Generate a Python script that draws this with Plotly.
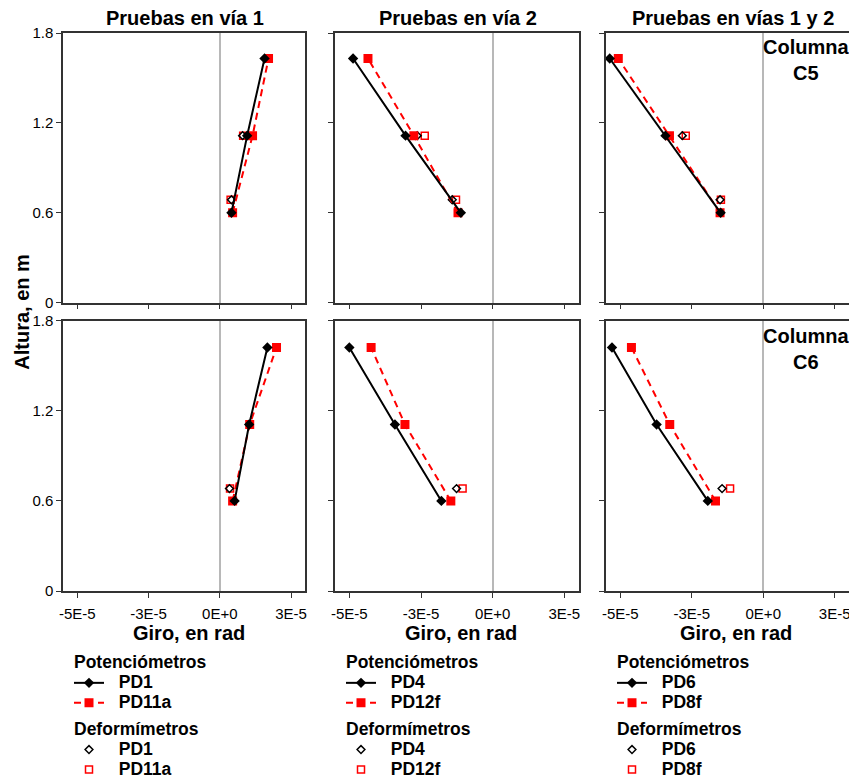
import plotly.graph_objects as go

# ---------------- data ----------------
heights_pot_c5 = [0.6, 1.115, 1.63]
heights_def_c5 = [1.115, 0.687]
heights_pot_c6 = [0.6, 1.109, 1.622]
heights_def_c6 = [0.682]

# Column C5 (top row)
c5_v1_pd1_pot = [0.41e-5, 0.96e-5, 1.57e-5]
c5_v1_pd11a_pot = [0.45e-5, 1.15e-5, 1.71e-5]
c5_v1_pd1_def = [0.80e-5, 0.41e-5]
c5_v1_pd11a_def = [0.82e-5, 0.38e-5]

c5_v2_pd4_pot = [-1.11e-5, -3.04e-5, -4.87e-5]
c5_v2_pd12f_pot = [-1.21e-5, -2.75e-5, -4.35e-5]
c5_v2_pd4_def = [-2.63e-5, -1.41e-5]
c5_v2_pd12f_def = [-2.37e-5, -1.28e-5]

c5_v12_pd6_pot = [-1.49e-5, -3.42e-5, -5.37e-5]
c5_v12_pd8f_pot = [-1.51e-5, -3.28e-5, -5.07e-5]
c5_v12_pd6_def = [-2.83e-5, -1.51e-5]
c5_v12_pd8f_def = [-2.71e-5, -1.48e-5]

# Column C6 (bottom row)
c6_v1_pd1_pot = [0.52e-5, 1.03e-5, 1.67e-5]
c6_v1_pd11a_pot = [0.45e-5, 1.05e-5, 1.99e-5]
c6_v1_pd1_def = [0.34e-5]
c6_v1_pd11a_def = [0.36e-5]

c6_v2_pd4_pot = [-1.79e-5, -3.41e-5, -5.00e-5]
c6_v2_pd12f_pot = [-1.46e-5, -3.06e-5, -4.24e-5]
c6_v2_pd4_def = [-1.26e-5]
c6_v2_pd12f_def = [-1.05e-5]

c6_v12_pd6_pot = [-1.94e-5, -3.73e-5, -5.29e-5]
c6_v12_pd8f_pot = [-1.67e-5, -3.27e-5, -4.61e-5]
c6_v12_pd6_def = [-1.44e-5]
c6_v12_pd8f_def = [-1.16e-5]

col_titles = ["Pruebas en vía 1", "Pruebas en vía 2", "Pruebas en vías 1 y 2"]
names_black = ["PD1", "PD4", "PD6"]
names_red = ["PD11a", "PD12f", "PD8f"]

x_tickvals = [-5e-5, -2.5e-5, 0, 2.5e-5]
x_ticktext = ["-5E-5", "-3E-5", "0E+0", "3E-5"]
y_tickvals = [0, 0.6, 1.2, 1.8]
y_ticktext = ["0", "0.6", "1.2", "1.8"]

panels = [
    (1, 1, c5_v1_pd1_pot, c5_v1_pd11a_pot, c5_v1_pd1_def, c5_v1_pd11a_def, heights_pot_c5, heights_def_c5),
    (1, 2, c5_v2_pd4_pot, c5_v2_pd12f_pot, c5_v2_pd4_def, c5_v2_pd12f_def, heights_pot_c5, heights_def_c5),
    (1, 3, c5_v12_pd6_pot, c5_v12_pd8f_pot, c5_v12_pd6_def, c5_v12_pd8f_def, heights_pot_c5, heights_def_c5),
    (2, 1, c6_v1_pd1_pot, c6_v1_pd11a_pot, c6_v1_pd1_def, c6_v1_pd11a_def, heights_pot_c6, heights_def_c6),
    (2, 2, c6_v2_pd4_pot, c6_v2_pd12f_pot, c6_v2_pd4_def, c6_v2_pd12f_def, heights_pot_c6, heights_def_c6),
    (2, 3, c6_v12_pd6_pot, c6_v12_pd8f_pot, c6_v12_pd6_def, c6_v12_pd8f_def, heights_pot_c6, heights_def_c6),
]

# ---------------- layout geometry ----------------
# page body has an 8px margin: work in screenshot pixels, convert to figure pixels
OFF = 8
W, H = 857 - OFF, 795 - OFF
PL, PR, PT, PB = 63 - OFF, 849 - OFF, 33 - OFF, 591 - OFF  # plot area in figure px
ML, MR, MT, MB = PL, W - PR, PT, H - PB
PW = PR - PL
PH = PB - PT
col_px = [(63, 305.3), (335, 578.7), (606, 849)]
row_px = [(33, 302.7), (320.7, 591)]


def xdom(c):
    a, b = col_px[c]
    return [max(0, (a - OFF - PL) / PW), min(1, (b - OFF - PL) / PW)]


def ydom(r):
    a, b = row_px[r]
    return [max(0, (PB - (b - OFF)) / PH), min(1, (PB - (a - OFF)) / PH)]


def px2x(px):
    return (px - OFF - PL) / PW


def py2y(py):
    return (PB - (py - OFF)) / PH


BIG = 'font-size:17.5px'
NB = "\u00a0\u00a0"

fig = go.Figure()
legend_ids = ["legend", "legend2", "legend3"]

for (r, c, bp, rp, bd, rd, hp, hd) in panels:
    idx = (r - 1) * 3 + c
    xa = "x" if idx == 1 else f"x{idx}"
    ya = "y" if idx == 1 else f"y{idx}"
    show = (r == 1)
    lg = legend_ids[c - 1]
    nb = names_black[c - 1]
    nr = names_red[c - 1]
    fig.add_trace(go.Scatter(
        x=rd, y=hd, mode="markers", xaxis=xa, yaxis=ya,
        name=f'<span style="{BIG}">{NB}{nr}</span>',
        legend=lg, legendgroup=f"def{c}", legendrank=4, showlegend=show,
        legendgrouptitle=dict(text=f'<span style="{BIG}">Deformímetros</span>'),
        marker=dict(symbol="square-open", size=7, color="#ff0000", line=dict(width=1.5)),
    ))
    fig.add_trace(go.Scatter(
        x=bd, y=hd, mode="markers", xaxis=xa, yaxis=ya,
        name=f'<span style="{BIG}">{NB}{nb}</span>',
        legend=lg, legendgroup=f"def{c}", legendrank=3, showlegend=show,
        legendgrouptitle=dict(text=f'<span style="{BIG}">Deformímetros</span>'),
        marker=dict(symbol="diamond-open", size=6, color="#000000", line=dict(width=1.5)),
    ))
    fig.add_trace(go.Scatter(
        x=rp, y=hp, mode="lines+markers", xaxis=xa, yaxis=ya,
        name=f'<span style="{BIG}">{NB}{nr}</span>',
        legend=lg, legendgroup=f"pot{c}", legendrank=2, showlegend=show,
        legendgrouptitle=dict(text=f'<span style="{BIG}">Potenciómetros</span>'),
        line=dict(color="#ff0000", width=2, dash="7px,5px"),
        marker=dict(symbol="square", size=9, color="#ff0000"),
    ))
    fig.add_trace(go.Scatter(
        x=bp, y=hp, mode="lines+markers", xaxis=xa, yaxis=ya,
        name=f'<span style="{BIG}">{NB}{nb}</span>',
        legend=lg, legendgroup=f"pot{c}", legendrank=1, showlegend=show,
        legendgrouptitle=dict(text=f'<span style="{BIG}">Potenciómetros</span>'),
        line=dict(color="#000000", width=2),
        marker=dict(symbol="diamond", size=8, color="#000000"),
    ))

axis_common = dict(
    showline=True, linecolor="#333333", linewidth=1.5, mirror=True,
    ticks="outside", ticklen=5, tickwidth=1.2, tickcolor="#333333",
    showgrid=False,
    tickfont=dict(family="Liberation Sans, Arial, sans-serif", size=15, color="#000"),
)

layout_axes = {}
for r in range(2):
    for c in range(3):
        idx = r * 3 + c + 1
        xk = "xaxis" if idx == 1 else f"xaxis{idx}"
        yk = "yaxis" if idx == 1 else f"yaxis{idx}"
        ya = "y" if idx == 1 else f"y{idx}"
        xa = "x" if idx == 1 else f"x{idx}"
        layout_axes[xk] = dict(
            axis_common, domain=xdom(c), anchor=ya, range=[-5.5e-5, 3e-5],
            tickvals=x_tickvals, ticktext=x_ticktext, showticklabels=(r == 1),
            ticklabelstandoff=3,
            zeroline=True, zerolinecolor="#b8b8b8", zerolinewidth=1.5,
        )
        layout_axes[yk] = dict(
            axis_common, domain=ydom(r), anchor=xa, range=[0, 1.8],
            tickvals=y_tickvals, ticktext=y_ticktext, showticklabels=(c == 0),
            zeroline=False,
        )

BOLD = dict(family="Liberation Sans, Arial, sans-serif", size=20, color="#000", weight="bold")

annotations = []
title_cx = [185, 458.5, 732.5]
for c in range(3):
    annotations.append(dict(
        text=col_titles[c], x=px2x(title_cx[c]), y=py2y(18), xref="paper", yref="paper",
        showarrow=False, xanchor="center", yanchor="middle", font=BOLD,
    ))
giro_cx = [189, 461, 736]
for c in range(3):
    annotations.append(dict(
        text="Giro, en rad", x=px2x(giro_cx[c]), y=py2y(633), xref="paper", yref="paper",
        showarrow=False, xanchor="center", yanchor="middle", font=BOLD,
    ))
annotations.append(dict(
    text="Altura, en m", x=px2x(22), y=py2y(311.7), xref="paper", yref="paper",
    showarrow=False, xanchor="center", yanchor="middle", textangle=-90, font=BOLD,
))
annotations.append(dict(
    text="Columna<br>C5", x=px2x(806), y=py2y(60), xref="paper", yref="paper",
    showarrow=False, xanchor="center", yanchor="middle", font=BOLD,
))
annotations.append(dict(
    text="Columna<br>C6", x=px2x(806), y=py2y(349), xref="paper", yref="paper",
    showarrow=False, xanchor="center", yanchor="middle", font=BOLD,
))

leg_font = dict(family="Liberation Sans, Arial, sans-serif", size=13, color="#000", weight="bold")
leg_x_px = [69, 341, 612]
legends = {}
for i, lid in enumerate(legend_ids):
    legends[lid] = dict(
        x=px2x(leg_x_px[i]), y=py2y(648), xref="paper", yref="paper",
        xanchor="left", yanchor="top", orientation="v",
        traceorder="grouped", tracegroupgap=7, itemwidth=30,
        font=leg_font, grouptitlefont=leg_font,
        bgcolor="rgba(0,0,0,0)", borderwidth=0,
    )

fig.update_layout(
    width=W, height=H,
    margin=dict(l=ML, r=MR, t=MT, b=MB, autoexpand=False),
    paper_bgcolor="white", plot_bgcolor="white",
    showlegend=True,
    annotations=annotations,
    font=dict(family="Liberation Sans, Arial, sans-serif"),
    **layout_axes,
    **legends,
)

fig.write_html("out.html")
